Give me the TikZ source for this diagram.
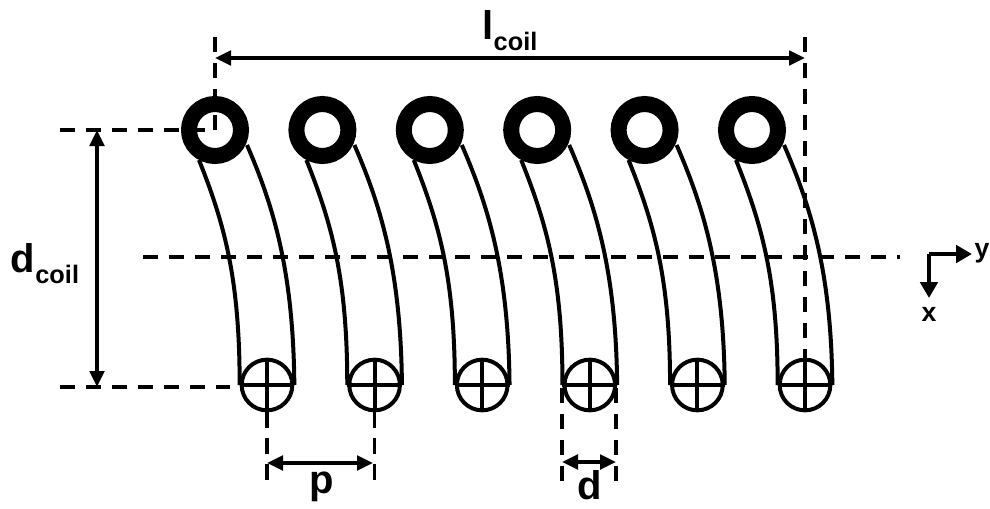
\documentclass[tikz,border=0pt]{standalone}
\usepackage{fontspec}
\setmainfont{Liberation Sans}
\usetikzlibrary{arrows.meta}
\newcommand{\subcoil}{\raisebox{-0.28em}{\fontsize{19}{19}\selectfont coil}}
\tikzset{
  ring/.style={circle,draw,line width=12pt,inner sep=0pt,minimum size=39pt},
  wire/.style={circle,draw,line width=3pt,inner sep=0pt,minimum size=38pt},
  leg/.style={line width=3pt},
  guide/.style={line width=2.3pt,dash pattern=on 11.5pt off 8pt},
  dimline/.style={line width=2.6pt,{Triangle[length=12pt,width=11pt]}-{Triangle[length=12pt,width=11pt]}},
  axisline/.style={line width=3.4pt,-{Triangle[length=12pt,width=13pt]}},
  biglabel/.style={font=\bfseries\fontsize{30}{30}\selectfont,inner sep=0pt},
  axislabel/.style={font=\bfseries\fontsize{20}{20}\selectfont,inner sep=0pt}
}
\begin{document}
\begin{tikzpicture}[x=0.75pt,y=-0.75pt]
      \useasboundingbox (0,0) rectangle (990,508);
      % turns of the coil
      \foreach \i in {0,...,5} {
        \node[wire] (bot\i) at ({267+107.6*\i},385) {};
        \coordinate (top\i) at ({215+107.4*\i},130);
        \draw[leg] (top\i) ++(-16,30) .. controls +(26,65) and +(0,-105) .. (bot\i.west);
        \draw[leg] (top\i) ++(32,15) .. controls +(26,60) and +(-1,-115) .. (bot\i.east);
        \node[ring] (turn\i) at (top\i) {};
        \draw[leg] (bot\i.west) -- (bot\i.east);
        \draw[leg] (bot\i.north) -- (bot\i.south);
      }
      % guide lines
      \coordinate (lstart) at (215,37);
      \coordinate (lend) at (805,37);
      \coordinate (dstart) at (60,130);
      \coordinate (dend) at (60,387);
      \coordinate (dstop) at (230,387);
      \coordinate (axisstart) at (143,257);
      \coordinate (axisend) at (900,257);
      \coordinate (pfoot) at (0,480);
      \draw[guide] (lstart) -- (top0);
      \draw[guide] (lend) -- (bot5.center);
      \draw[guide] (dstart) -- (top0);
      \draw[guide] (dend) -- (dstop);
      \draw[guide] (axisstart) -- (axisend);
      \draw[guide] (bot0.south) -- (bot0.south |- pfoot);
      \draw[guide] (bot1.south) -- (bot1.south |- pfoot);
      \draw[guide] (562,388) -- (562,482);
      \draw[guide] (616,388) -- (616,482);
      % dimensions
      \coordinate (la) at (215,58);
      \coordinate (lb) at (805,58);
      \coordinate (da) at (97,130);
      \coordinate (db) at (97,387);
      \coordinate (pa) at (267,463);
      \coordinate (pb) at (373,463);
      \coordinate (wa) at (562,462);
      \coordinate (wb) at (616,462);
      \draw[dimline] (la) -- (lb);
      \draw[dimline] (da) -- (db);
      \draw[dimline] (pa) -- (pb);
      \draw[dimline] (wa) -- (wb);
      \node[biglabel] (lcoil) at (510,31) {l\subcoil};
      \node[biglabel] (dcoil) at (45,264) {d\subcoil};
      \node[biglabel] (plabel) at (322,487) {p};
      \node[biglabel] (wlabel) at (590,485) {d};
      % axes
      \coordinate (corner) at (929,254);
      \coordinate (ytip) at (972,254);
      \coordinate (xtip) at (929,298);
      \draw[axisline] (corner) -- (ytip);
      \draw[axisline] (corner) -- (xtip);
      \node[axislabel] (ylabel) at (982,253) {y};
      \node[axislabel] (xlabel) at (929,314) {x};
    \end{tikzpicture}
\end{document}
